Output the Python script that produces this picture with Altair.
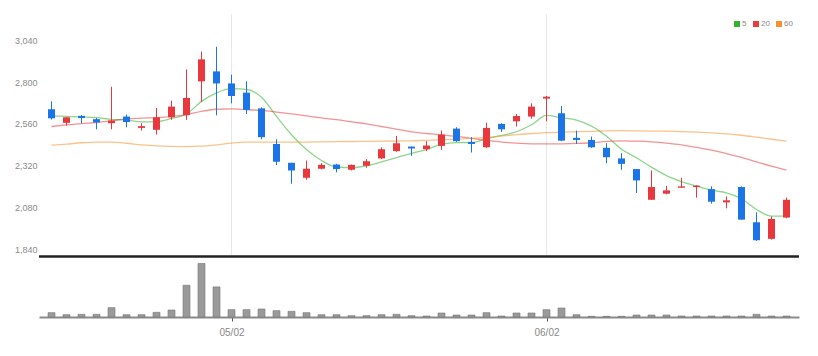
import altair as alt
import pandas as pd

# ---- data ----
idx = list(range(50))
opens = [2644, 2566, 2606, 2587, 2564, 2602, 2537, 2526, 2598, 2610,
         2804, 2861, 2792, 2739, 2649, 2445, 2337, 2251, 2303, 2327,
         2297, 2320, 2362, 2404, 2430, 2415, 2434, 2533, 2457, 2426,
         2560, 2575, 2602, 2705, 2621, 2480, 2468, 2423, 2362, 2301,
         2125, 2160, 2194, 2198, 2186, 2110, 2198, 1996, 1901, 2023]
closes = [2592, 2598, 2594, 2568, 2579, 2571, 2547, 2598, 2659, 2709,
          2930, 2792, 2720, 2640, 2484, 2343, 2293, 2303, 2325, 2301,
          2325, 2346, 2415, 2449, 2419, 2436, 2499, 2461, 2445, 2537,
          2529, 2605, 2659, 2716, 2464, 2468, 2426, 2369, 2331, 2236,
          2198, 2179, 2202, 2206, 2114, 2122, 2011, 1893, 2015, 2125]
highs = [2690, 2598, 2610, 2594, 2773, 2613, 2564, 2651, 2693, 2872,
         2975, 3002, 2842, 2804, 2655, 2472, 2337, 2350, 2335, 2331,
         2327, 2358, 2426, 2491, 2430, 2461, 2522, 2541, 2484, 2567,
         2564, 2617, 2678, 2720, 2663, 2522, 2487, 2449, 2392, 2301,
         2293, 2205, 2251, 2209, 2202, 2145, 2202, 2053, 2030, 2137]
lows = [2585, 2550, 2564, 2529, 2529, 2541, 2522, 2499, 2583, 2583,
        2686, 2609, 2678, 2617, 2472, 2324, 2217, 2240, 2299, 2282,
        2293, 2308, 2358, 2400, 2377, 2404, 2411, 2457, 2396, 2423,
        2514, 2545, 2590, 2575, 2461, 2445, 2423, 2335, 2297, 2164,
        2125, 2156, 2194, 2137, 2103, 2076, 2011, 1889, 1897, 2019]
volumes = [130000, 70000, 80000, 80000, 280000, 70000, 70000, 140000, 210000, 950000,
           1600000, 900000, 220000, 220000, 240000, 190000, 170000, 130000, 70000, 70000,
           40000, 40000, 70000, 80000, 40000, 30000, 120000, 60000, 60000, 130000,
           30000, 120000, 120000, 220000, 270000, 70000, 20000, 20000, 20000, 60000,
           60000, 60000, 30000, 30000, 30000, 30000, 30000, 80000, 30000, 30000]
ma5 = [2606, 2603, 2600, 2596, 2586, 2582, 2572, 2573, 2591, 2617,
       2689, 2738, 2762, 2758, 2713, 2603, 2498, 2413, 2350, 2313,
       2309, 2320, 2342, 2367, 2391, 2413, 2444, 2453, 2452, 2476,
       2494, 2515, 2555, 2609, 2595, 2582, 2547, 2489, 2415, 2366,
       2312, 2263, 2229, 2204, 2180, 2165, 2131, 2069, 2031, 2033]
ma20 = [2545, 2554, 2562, 2568, 2578, 2589, 2593, 2596, 2602, 2613,
        2632, 2644, 2646, 2642, 2637, 2628, 2618, 2606, 2594, 2584,
        2572, 2560, 2545, 2530, 2514, 2505, 2497, 2488, 2477, 2466,
        2456, 2450, 2446, 2445, 2446, 2448, 2452, 2460, 2463, 2461,
        2457, 2450, 2440, 2425, 2410, 2390, 2368, 2342, 2318, 2295]
ma60 = [2438, 2444, 2452, 2456, 2455, 2449, 2440, 2434, 2431, 2430,
        2432, 2440, 2450, 2455, 2456, 2456, 2456, 2456, 2457, 2458,
        2459, 2460, 2461, 2462, 2463, 2466, 2469, 2473, 2477, 2482,
        2490, 2498, 2505, 2510, 2513, 2515, 2517, 2520, 2521, 2520,
        2519, 2518, 2516, 2513, 2509, 2503, 2495, 2484, 2472, 2461]
tick_idx = [12, 33]
tick_labels = ["05/02", "06/02"]
y_ticks = [1840, 2080, 2320, 2560, 2800, 3040]
ma_names = ["5", "20", "60"]
ma_colors = ["#2db52d", "#ea3a3a", "#f5922e"]
UP, DOWN = "#e8383d", "#1b74e8"
FONT = "Liberation Sans"

PRICE_LO, PRICE_SPLIT, PRICE_HI = 1453, 1800, 3190
VOL_MAX = 9060000

df = pd.DataFrame({"idx": idx, "open": opens, "close": closes, "high": highs,
                   "low": lows, "vol": volumes})
ma_df = pd.concat([
    pd.DataFrame({"idx": idx, "value": vals, "ma": name})
    for name, vals in zip(ma_names, [ma5, ma20, ma60])
])
tick_df = pd.DataFrame({"idx": tick_idx})

xscale = alt.Scale(domain=[-0.5, 49.5], nice=False, zero=False)
pscale = alt.Scale(domain=[PRICE_LO, PRICE_HI], nice=False, zero=False)
label_expr = " : ".join(f"datum.value == {v} ? '{t}'" for v, t in zip(tick_idx, tick_labels)) + " : ''"

x_enc = alt.X("idx:Q", scale=xscale, axis=alt.Axis(
    values=tick_idx, labelExpr=label_expr, ticks=True, tickSize=4, tickColor="#555",
    domainColor="#8a8a8a", domainWidth=2, grid=False, labelColor="#888", labelFontSize=10,
    labelFont=FONT, labelPadding=6, title=None, minExtent=22, maxExtent=22))
y_axis = alt.Axis(values=y_ticks, format=",d", ticks=False, domain=False, labelPadding=2,
                  gridColor="#efefef", labelColor="#8a8a8a", labelFontSize=9, labelFont=FONT,
                  minExtent=24, maxExtent=24, title=None, orient="left")
candle_color = alt.condition("datum.close >= datum.open", alt.value(UP), alt.value(DOWN))

vgrid = alt.Chart(tick_df).mark_rule(color="#e8e8e8", strokeWidth=1).encode(
    x=x_enc,
    y=alt.YDatum(PRICE_SPLIT, type="quantitative", scale=pscale, axis=y_axis),
    y2=alt.Y2Datum(PRICE_HI))
split = alt.Chart(tick_df).mark_rule(color="#222", strokeWidth=2).encode(
    y=alt.YDatum(PRICE_SPLIT, type="quantitative", scale=pscale, axis=y_axis))
lines = alt.Chart(ma_df).mark_line(strokeWidth=1.3, opacity=0.55, interpolate="monotone").encode(
    x=x_enc,
    y=alt.Y("value:Q", scale=pscale, axis=y_axis),
    color=alt.Color("ma:N", scale=alt.Scale(domain=ma_names, range=ma_colors), sort=ma_names,
                    legend=alt.Legend(orient="top-right", offset=6,
                                      direction="horizontal", title=None, gridAlign="none",
                                      symbolType="square", symbolSize=9, symbolStrokeWidth=3,
                                      symbolOpacity=1, labelFontSize=8, labelColor="#888",
                                      labelFont=FONT, columnPadding=1, labelOffset=1,
                                      padding=0)),
)
wicks = alt.Chart(df).mark_rule(strokeWidth=1).encode(
    x=x_enc, y=alt.Y("low:Q", scale=pscale, axis=y_axis), y2="high:Q", color=candle_color)
bodies = alt.Chart(df).mark_bar(size=7).encode(
    x=x_enc, y=alt.Y("open:Q", scale=pscale, axis=y_axis), y2="close:Q", color=candle_color)

price = alt.layer(vgrid, split, lines, wicks, bodies)

volume = alt.Chart(df).mark_bar(size=7, color="#9a9a9a", stroke="#767676", strokeWidth=0.6).encode(
    x=x_enc,
    y=alt.Y("vol:Q", scale=alt.Scale(domain=[0, VOL_MAX], nice=False), axis=None),
)

chart = alt.layer(price, volume).resolve_scale(y="independent").properties(
    width=802, height=331,
    autosize=alt.AutoSizeParams(type="fit", contains="padding"),
    padding={"left": 6, "top": 5, "right": 10, "bottom": 0},
).configure_view(stroke=None)
chart.save("out.html", embed_options={"renderer": "svg", "actions": False})
